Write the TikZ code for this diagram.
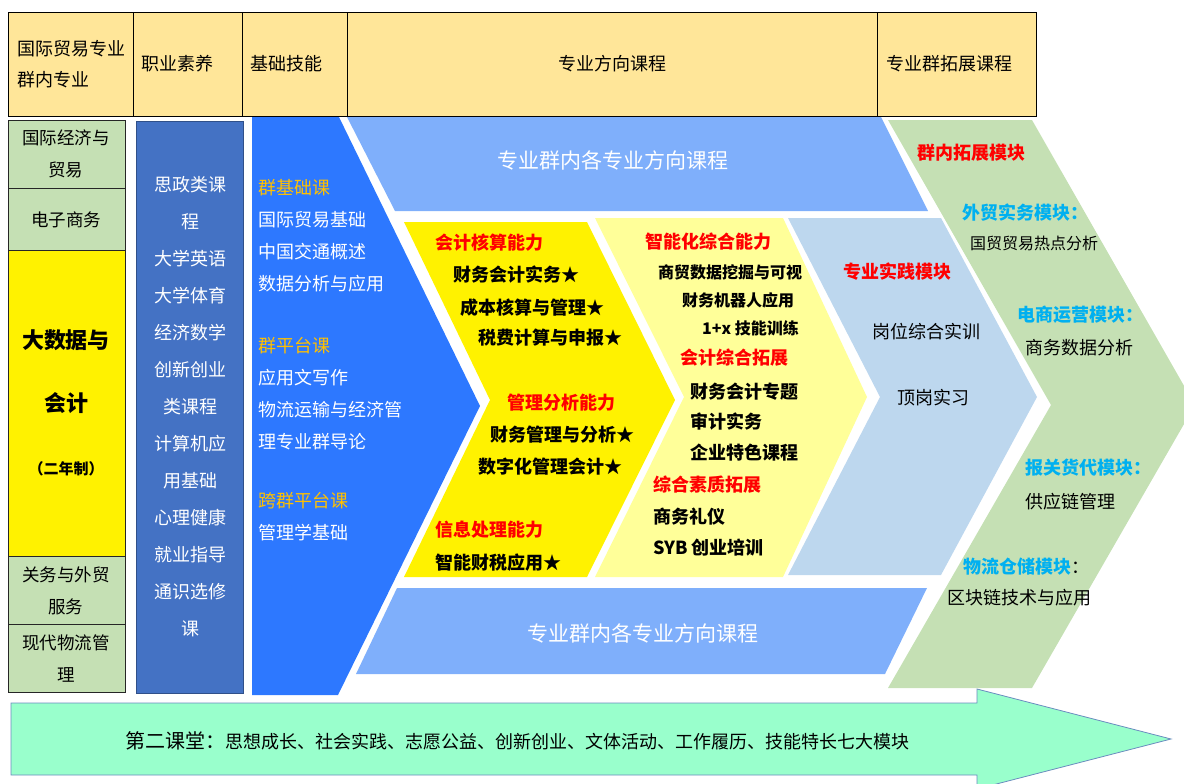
\documentclass[tikz,border=0pt]{standalone}
\usepackage{fontspec}
\setmainfont{Noto Sans CJK SC}
\usepackage{tikz}
\definecolor{hdr}{HTML}{FFE699}
\definecolor{grn}{HTML}{C5E0B4}
\definecolor{dblue}{HTML}{4472C4}
\definecolor{bblue}{RGB}{45,120,255}
\definecolor{lblue}{HTML}{7FAFFB}
\definecolor{pblue}{HTML}{BDD7EE}
\definecolor{lyel}{HTML}{FFFF99}
\definecolor{mint}{HTML}{99FFCC}
\definecolor{arb}{HTML}{6A8CBF}
\definecolor{org}{HTML}{FFC000}
\definecolor{cyn}{HTML}{00B0F0}
\tikzstyle{cell}=[draw=black, fill=hdr, line width=0.8pt]
\tikzstyle{box}=[draw=black!85, fill=grn, line width=1pt]
\tikzstyle{hd}=[inner sep=0pt, font=\fontsize{18}{31}\selectfont]
\tikzstyle{gb}=[inner sep=0pt, align=center, font=\fontsize{17.5}{32}\selectfont]
\tikzstyle{wt}=[inner sep=0pt, text=white, align=center, font=\fontsize{18}{37}\selectfont]
\tikzstyle{wl}=[inner sep=0pt, anchor=west, text=white, align=left, font=\fontsize{18}{32}\selectfont]
\tikzstyle{bt}=[inner sep=0pt, text=white, font=\fontsize{21}{25}\selectfont]
\tikzstyle{kb}=[inner sep=0pt, anchor=west, font=\bfseries\fontsize{18}{22}\selectfont]
\tikzstyle{ks}=[kb, font=\bfseries\fontsize{16}{20}\selectfont]
\tikzstyle{kr}=[kb, text=red]
\tikzstyle{kc}=[kb, text=cyn]
\tikzstyle{nb}=[inner sep=0pt, anchor=west, font=\fontsize{18}{22}\selectfont]
\tikzstyle{ns}=[nb, font=\fontsize{16}{20}\selectfont]

\begin{document}
\begin{tikzpicture}[x=1pt, y=-1pt]
	\useasboundingbox (0,0) rectangle (1184,784);
	\draw[cell] (8,12) rectangle (133,116);
	\draw[cell] (133,12) rectangle (242,116);
	\draw[cell] (242,12) rectangle (347,116);
	\draw[cell] (347,12) rectangle (877,116);
	\draw[cell] (877,12) rectangle (1036,116);
	\draw[box] (8,120) rectangle (125,188);
	\draw[box] (8,188) rectangle (125,250);
	\draw[box, fill=yellow] (8,250) rectangle (125,556);
	\draw[box] (8,556) rectangle (125,624);
	\draw[box] (8,624) rectangle (125,692);
	\draw[fill=dblue, draw=dblue!70!black, line width=0.8pt] (136,121) rectangle (243,693);
	\fill[bblue] (252,117) -- (339,117) -- (480,406) -- (338,695) -- (252,695) -- cycle;
	\fill[lblue] (347,117) -- (881,117) -- (928,211) -- (395,211) -- cycle;
	\fill[lblue] (397,588) -- (927,588) -- (885,674) -- (356,674) -- cycle;
	\fill[yellow] (404,222) -- (587,222) -- (675,400) -- (587,577) -- (404,577) -- (490,400) -- cycle;
	\fill[lyel] (595,218) -- (783,218) -- (867,397) -- (783,577) -- (595,577) -- (684,397) -- cycle;
	\fill[pblue] (788,218) -- (941,218) -- (1037,397) -- (941,575) -- (788,575) -- (880,397) -- cycle;
	\fill[grn] (888,120) -- (1032,120) -- (1195,405) -- (1032,688) -- (888,688) -- (1051,405) -- cycle;
	\draw[fill=mint, draw=arb, line width=0.8pt] (11,703) -- (977,703) -- (977,689) -- (1171,739) -- (977,789) -- (977,775) -- (11,775) -- cycle;

	\draw (17,64) node[hd, anchor=west, align=left] (h1) {国际贸易专业\\群内专业};
	\draw (141,64) node[hd, anchor=west] (h2) {职业素养};
	\draw (250,64) node[hd, anchor=west] (h3) {基础技能};
	\draw (612,64) node[hd] (h4) {专业方向课程};
	\draw (886,64) node[hd, anchor=west] (h5) {专业群拓展课程};

	\draw (66,154) node[gb] (m1) {国际经济与\\贸易};
	\draw (66,220) node[gb] (m2) {电子商务};
	\draw (66,403) node[gb, font=\bfseries\fontsize{22}{63}\selectfont] (m3) {大数据与\\会计\\{\fontsize{15}{63}\selectfont （二年制）}};
	\draw (66,591) node[gb] (m4) {关务与外贸\\服务};
	\draw (66,659) node[gb] (m5) {现代物流管\\理};

	\draw (190,407) node[wt] (c1) {思政类课\\程\\大学英语\\大学体育\\经济数学\\创新创业\\类课程\\计算机应\\用基础\\心理健康\\就业指导\\通识选修\\课};

	\draw (258,236) node[wl] (b1) {\textcolor{org}{群基础课}\\国际贸易基础\\中国交通概述\\数据分析与应用};
	\draw (258,393.5) node[wl] (b2) {\textcolor{org}{群平台课}\\应用文写作\\物流运输与经济管\\理专业群导论};
	\draw (258,516.5) node[wl] (b3) {\textcolor{org}{跨群平台课}\\管理学基础};

	\draw (613,160) node[bt] (t1) {专业群内各专业方向课程};
	\draw (643,633) node[bt] (t2) {专业群内各专业方向课程};

	\draw (435,243) node[kr] (a1) {会计核算能力};
	\draw (453,275) node[kb] (a2) {财务会计实务★};
	\draw (460,308) node[kb] (a3) {成本核算与管理★};
	\draw (478,338) node[kb] (a4) {税费计算与申报★};
	\draw (507,403) node[kr] (a5) {管理分析能力};
	\draw (490,435) node[kb] (a6) {财务管理与分析★};
	\draw (478,467) node[kb] (a7) {数字化管理会计★};
	\draw (435,530) node[kr] (a8) {信息处理能力};
	\draw (435,563) node[kb] (a9) {智能财税应用★};

	\draw (645,242) node[kr] (s1) {智能化综合能力};
	\draw (658,272) node[ks] (s2) {商贸数据挖掘与可视};
	\draw (682,300) node[ks] (s3) {财务机器人应用};
	\draw (702,328) node[ks] (s4) {1+x 技能训练};
	\draw (680,358) node[kr] (s5) {会计综合拓展};
	\draw (690,392) node[kb] (s6) {财务会计专题};
	\draw (690,422) node[kb] (s7) {审计实务};
	\draw (690,453) node[kb] (s8) {企业特色课程};
	\draw (653,485) node[kr] (s9) {综合素质拓展};
	\draw (653,517) node[kb] (s10) {商务礼仪};
	\draw (653,548) node[kb] (s11) {SYB 创业培训};

	\draw (843,272) node[kr] (p1) {专业实践模块};
	\draw (872,332) node[nb] (p2) {岗位综合实训};
	\draw (897,398) node[nb] (p3) {顶岗实习};

	\draw (917,153) node[kr] (e1) {群内拓展模块};
	\draw (962,213) node[kc] (e2) {外贸实务模块：};
	\draw (970,243) node[ns] (e3) {国贸贸易热点分析};
	\draw (1017,315) node[kc] (e4) {电商运营模块：};
	\draw (1025,348) node[nb] (e5) {商务数据分析};
	\draw (1025,468) node[kc] (e6) {报关货代模块：};
	\draw (1025,502) node[nb] (e7) {供应链管理};
	\draw (963,567) node[kc] (e8) {物流仓储模块\textcolor{black}{\mdseries ：}};
	\draw (947,598) node[nb] (e9) {区块链技术与应用};

	\draw (125,741) node[nb] (z1) {{\fontsize{20}{22}\selectfont 第二课堂：}思想成长、社会实践、志愿公益、创新创业、文体活动、工作履历、技能特长七大模块};
\end{tikzpicture}
\end{document}
